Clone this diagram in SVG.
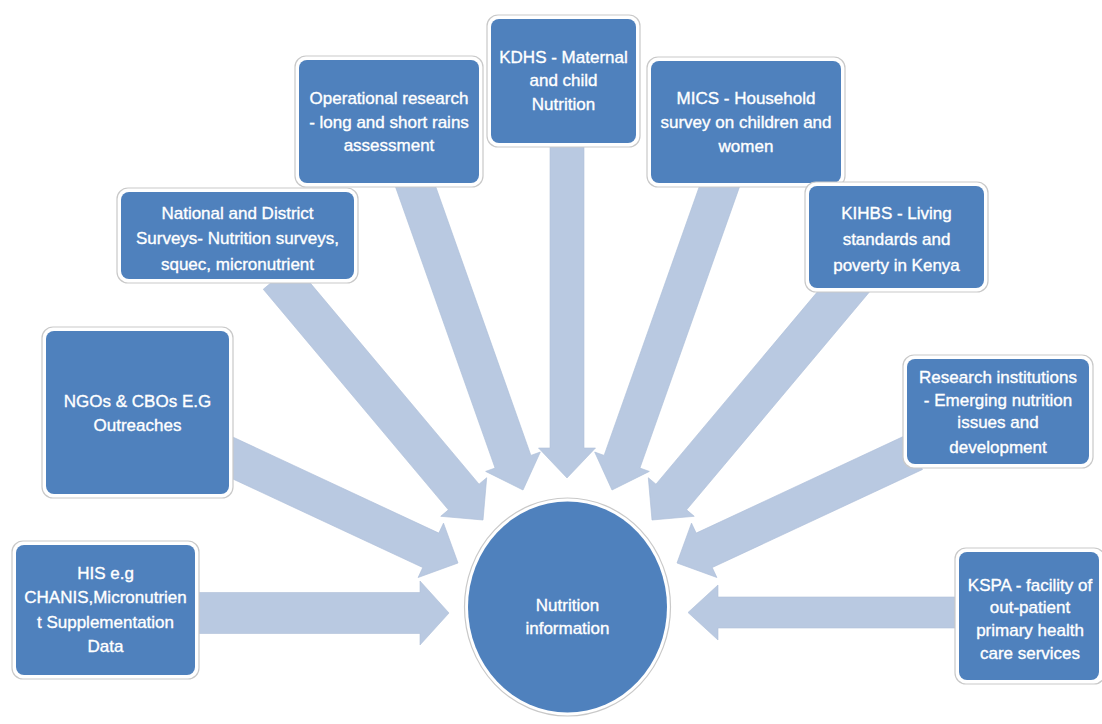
<svg xmlns="http://www.w3.org/2000/svg" width="1102" height="724" viewBox="0 0 1102 724">
<style>
.arr{fill:#b9c9e1;stroke:#aebfd9;stroke-width:0.6}
.out{fill:#ffffff;stroke:#c9c9c9;stroke-width:1.2}
.box{fill:#4f81bd}
.t{font-family:"Liberation Sans",Arial,sans-serif;font-size:17px;fill:#ffffff;stroke:#ffffff;stroke-width:0.35;text-anchor:middle}
</style>
<rect width="1102" height="724" fill="#ffffff"/>
<g id="connectors">
  <path class="arr" transform="translate(449,613) rotate(0)" d="M-260,-20.5 L-29,-20.5 L-29,-32 L0,0 L-29,32 L-29,20.5 L-260,20.5 Z"/>
  <path class="arr" transform="translate(458,563) rotate(25)" d="M-258,-19 L-30,-19 L-30,-30 L0,0 L-30,30 L-30,19 L-258,19 Z"/>
  <path class="arr" transform="translate(483,520) rotate(50)" d="M-318,-20 L-30,-20 L-30,-30 L0,0 L-30,30 L-30,20 L-318,20 Z"/>
  <path class="arr" transform="translate(523,490) rotate(70.5)" d="M-333,-19 L-30,-19 L-30,-29 L0,0 L-30,29 L-30,19 L-333,19 Z"/>
  <path class="arr" transform="translate(567,478) rotate(90)" d="M-338,-17 L-30,-17 L-30,-28.5 L0,0 L-30,28.5 L-30,17 L-338,17 Z"/>
  <path class="arr" transform="translate(612,490) rotate(109.5)" d="M-333,-19 L-30,-19 L-30,-29 L0,0 L-30,29 L-30,19 L-333,19 Z"/>
  <path class="arr" transform="translate(652,520) rotate(130)" d="M-318,-20 L-30,-20 L-30,-30 L0,0 L-30,30 L-30,20 L-318,20 Z"/>
  <path class="arr" transform="translate(677,563) rotate(155)" d="M-262,-19 L-30,-19 L-30,-30 L0,0 L-30,30 L-30,19 L-262,19 Z"/>
  <path class="arr" transform="translate(688,612.5) rotate(180)" d="M-280,-15.5 L-30,-15.5 L-30,-27.5 L0,0 L-30,27.5 L-30,15.5 L-280,15.5 Z"/>
</g>
<g id="center">
  <ellipse cx="567.5" cy="607" rx="103" ry="109" fill="#ffffff" stroke="#c9c9c9" stroke-width="1.2"/>
  <ellipse cx="567.5" cy="607" rx="99.5" ry="105.5" fill="#4f81bd"/>
  <text class="t" x="567.5" y="611">Nutrition</text>
  <text class="t" x="567.5" y="634">information</text>
</g>
<g id="his">
  <rect class="out" x="12" y="541" width="187" height="138" rx="11"/>
  <rect class="box" x="16" y="545" width="179" height="130" rx="8"/>
  <text class="t" x="105.5" y="579">HIS e.g</text>
  <text class="t" x="105.5" y="603">CHANIS,Micronutrien</text>
  <text class="t" x="105.5" y="628">t Supplementation</text>
  <text class="t" x="105.5" y="652">Data</text>
</g>
<g id="ngos">
  <rect class="out" x="42" y="327" width="191" height="171" rx="11"/>
  <rect class="box" x="46" y="331" width="183" height="163" rx="8"/>
  <text class="t" x="137.5" y="407">NGOs &amp; CBOs E.G</text>
  <text class="t" x="137.5" y="431">Outreaches</text>
</g>
<g id="national">
  <rect class="out" x="117" y="188" width="241" height="95" rx="11"/>
  <rect class="box" x="121" y="192" width="233" height="87" rx="8"/>
  <text class="t" x="237.5" y="219">National and District</text>
  <text class="t" x="237.5" y="244">Surveys- Nutrition surveys,</text>
  <text class="t" x="237.5" y="270">squec, micronutrient</text>
</g>
<g id="operational">
  <rect class="out" x="295" y="56" width="188" height="131" rx="11"/>
  <rect class="box" x="299" y="60" width="180" height="123" rx="8"/>
  <text class="t" x="389" y="104">Operational research</text>
  <text class="t" x="389" y="128">- long and short rains</text>
  <text class="t" x="389" y="151">assessment</text>
</g>
<g id="kdhs">
  <rect class="out" x="487" y="15" width="153" height="132" rx="11"/>
  <rect class="box" x="491" y="19" width="145" height="124" rx="8"/>
  <text class="t" x="563.5" y="63">KDHS - Maternal</text>
  <text class="t" x="563.5" y="86">and child</text>
  <text class="t" x="563.5" y="110">Nutrition</text>
</g>
<g id="mics">
  <rect class="out" x="647" y="57" width="198" height="130" rx="11"/>
  <rect class="box" x="651" y="61" width="190" height="122" rx="8"/>
  <text class="t" x="746" y="104">MICS - Household</text>
  <text class="t" x="746" y="128">survey on children and</text>
  <text class="t" x="746" y="152">women</text>
</g>
<g id="kihbs">
  <rect class="out" x="805" y="182" width="183" height="110" rx="11"/>
  <rect class="box" x="809" y="186" width="175" height="102" rx="8"/>
  <text class="t" x="896.5" y="219">KIHBS - Living</text>
  <text class="t" x="896.5" y="245">standards and</text>
  <text class="t" x="896.5" y="271">poverty in Kenya</text>
</g>
<g id="research">
  <rect class="out" x="903" y="355" width="190" height="113" rx="11"/>
  <rect class="box" x="907" y="359" width="182" height="105" rx="8"/>
  <text class="t" x="998" y="383">Research institutions</text>
  <text class="t" x="998" y="406">- Emerging nutrition</text>
  <text class="t" x="998" y="428">issues and</text>
  <text class="t" x="998" y="453">development</text>
</g>
<g id="kspa">
  <rect class="out" x="955" y="548" width="150" height="136" rx="11"/>
  <rect class="box" x="959" y="552" width="140" height="128" rx="8"/>
  <text class="t" x="1030" y="591">KSPA - facility of</text>
  <text class="t" x="1030" y="613">out-patient</text>
  <text class="t" x="1030" y="636">primary health</text>
  <text class="t" x="1030" y="659">care services</text>
</g>
</svg>
